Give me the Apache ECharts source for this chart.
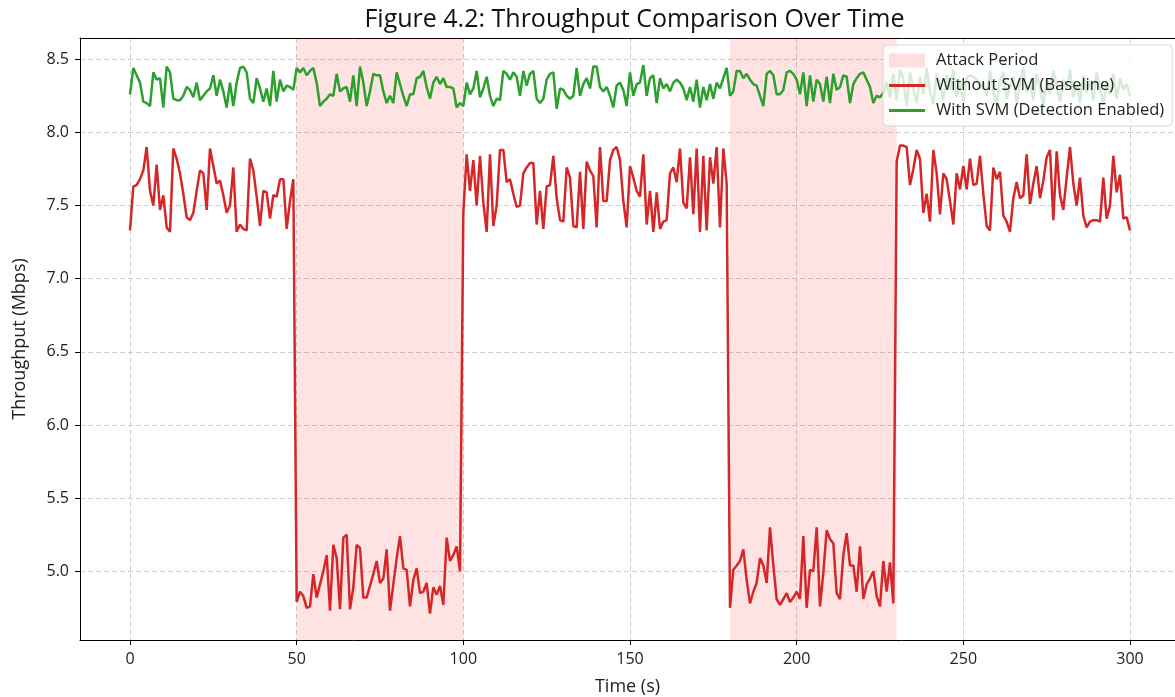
<!DOCTYPE html>
<html>
<head>
<meta charset="utf-8">
<script src="https://cdn.jsdelivr.net/npm/echarts@6/dist/echarts.min.js"></script>
<style>
html,body{margin:0;padding:0;background:#fff;}
#chart{width:1175px;height:697px;}
</style>
</head>
<body>
<div id="chart"></div>
<script>
// ---- data (one value per second, t = 0..300) ----
const withoutSVM = [
  7.33,7.63,7.64,7.68,7.74,7.90,7.60,7.50,7.78,7.47,
  7.57,7.35,7.32,7.89,7.82,7.72,7.58,7.42,7.40,7.45,
  7.60,7.74,7.72,7.47,7.89,7.77,7.65,7.67,7.57,7.45,
  7.50,7.76,7.32,7.37,7.34,7.33,7.82,7.74,7.56,7.36,
  7.60,7.59,7.41,7.57,7.56,7.68,7.68,7.34,7.53,7.68,
  4.79,4.86,4.83,4.75,4.76,4.98,4.82,4.91,5.00,5.11,
  4.73,5.18,5.09,4.74,5.23,5.25,4.74,4.89,5.18,5.16,
  4.82,4.82,4.90,4.98,5.07,4.92,4.95,5.15,4.73,4.91,
  5.09,5.24,5.02,5.01,4.76,4.94,5.02,4.85,4.86,4.92,
  4.71,4.89,4.84,4.90,4.77,5.23,5.07,5.11,5.17,5.00,
  7.45,7.85,7.60,7.81,7.50,7.84,7.52,7.32,7.85,7.36,
  7.50,7.88,7.88,7.66,7.68,7.58,7.49,7.50,7.72,7.76,
  7.79,7.79,7.37,7.60,7.34,7.63,7.64,7.84,7.55,7.40,
  7.39,7.76,7.69,7.36,7.35,7.73,7.34,7.80,7.74,7.70,
  7.35,7.90,7.53,7.53,7.81,7.88,7.90,7.81,7.53,7.35,
  7.77,7.69,7.60,7.56,7.85,7.37,7.60,7.32,7.59,7.34,
  7.39,7.40,7.72,7.76,7.66,7.89,7.52,7.48,7.83,7.44,
  7.89,7.32,7.84,7.33,7.83,7.65,7.90,7.35,7.89,7.65,
  4.75,5.01,5.04,5.07,5.15,4.94,4.78,4.86,4.92,5.09,
  5.04,4.92,5.30,5.04,4.81,4.77,4.81,4.85,4.79,4.82,
  4.86,4.81,5.24,4.75,5.01,5.00,5.30,4.76,4.99,5.28,
  5.22,5.19,4.85,4.81,5.11,5.26,5.04,5.04,4.86,5.17,
  4.81,4.91,4.95,5.00,4.83,4.76,5.07,4.86,5.06,4.78,
  7.80,7.91,7.91,7.90,7.64,7.75,7.88,7.82,7.45,7.58,
  7.39,7.88,7.72,7.44,7.72,7.68,7.53,7.37,7.72,7.61,
  7.77,7.61,7.82,7.64,7.65,7.84,7.58,7.36,7.33,7.76,
  7.68,7.73,7.43,7.39,7.32,7.55,7.66,7.55,7.57,7.85,
  7.51,7.65,7.77,7.55,7.67,7.83,7.88,7.40,7.87,7.57,
  7.47,7.69,7.90,7.65,7.50,7.69,7.43,7.35,7.39,7.40,
  7.40,7.39,7.69,7.41,7.50,7.84,7.59,7.71,7.41,7.42,
  7.33
];
const withSVM = [
  8.26,8.44,8.39,8.34,8.21,8.20,8.18,8.41,8.36,8.37,
  8.17,8.45,8.41,8.23,8.22,8.22,8.25,8.31,8.29,8.24,
  8.34,8.22,8.25,8.28,8.30,8.39,8.25,8.36,8.28,8.17,
  8.34,8.18,8.34,8.44,8.45,8.41,8.23,8.20,8.37,8.30,
  8.21,8.30,8.18,8.42,8.21,8.36,8.28,8.32,8.31,8.29,
  8.44,8.41,8.44,8.39,8.42,8.44,8.34,8.18,8.21,8.23,
  8.26,8.25,8.40,8.28,8.30,8.31,8.21,8.39,8.18,8.45,
  8.34,8.18,8.28,8.40,8.39,8.39,8.28,8.20,8.25,8.20,
  8.41,8.33,8.25,8.18,8.26,8.26,8.37,8.38,8.42,8.31,
  8.23,8.34,8.38,8.33,8.37,8.31,8.31,8.30,8.17,8.20,
  8.18,8.34,8.26,8.30,8.42,8.24,8.30,8.38,8.25,8.18,
  8.23,8.22,8.42,8.40,8.36,8.41,8.38,8.25,8.42,8.32,
  8.40,8.42,8.23,8.20,8.23,8.36,8.40,8.41,8.16,8.30,
  8.29,8.25,8.23,8.25,8.44,8.25,8.33,8.37,8.30,8.45,
  8.45,8.31,8.28,8.31,8.25,8.17,8.32,8.34,8.29,8.18,
  8.41,8.25,8.33,8.34,8.46,8.25,8.37,8.39,8.20,8.37,
  8.30,8.33,8.28,8.34,8.36,8.34,8.30,8.22,8.31,8.21,
  8.36,8.17,8.31,8.22,8.33,8.23,8.34,8.30,8.37,8.44,
  8.25,8.28,8.42,8.42,8.37,8.40,8.36,8.33,8.32,8.25,
  8.18,8.40,8.42,8.39,8.26,8.26,8.29,8.41,8.42,8.40,
  8.36,8.26,8.41,8.18,8.39,8.21,8.36,8.33,8.21,8.38,
  8.20,8.40,8.29,8.31,8.39,8.38,8.20,8.33,8.37,8.40,
  8.41,8.36,8.31,8.20,8.25,8.24,8.27,8.34,8.24,8.40,
  8.22,8.43,8.36,8.18,8.41,8.30,8.20,8.38,8.26,8.44,
  8.28,8.19,8.40,8.33,8.22,8.39,8.29,8.43,8.24,8.35,
  8.21,8.37,8.39,8.38,8.36,8.30,8.34,8.25,8.42,8.28,
  8.19,8.36,8.41,8.23,8.31,8.38,8.20,8.33,8.44,8.27,
  8.35,8.22,8.40,8.30,8.18,8.37,8.26,8.42,8.32,8.21,
  8.36,8.29,8.43,8.24,8.33,8.20,8.39,8.27,8.35,8.22,
  8.41,8.30,8.19,8.34,8.26,8.40,8.23,8.37,8.29,8.33,
  8.25
];
const attackPeriods = [[50, 100], [180, 230]];
const xTicks = [0, 50, 100, 150, 200, 250, 300];
const yTicks = [5.0, 5.5, 6.0, 6.5, 7.0, 7.5, 8.0, 8.5];
const seriesNames = ['Attack Period', 'Without SVM (Baseline)', 'With SVM (Detection Enabled)'];
const titleText = 'Figure 4.2: Throughput Comparison Over Time';
const xName = 'Time (s)';
const yName = 'Throughput (Mbps)';

// ---- chart ----
const FONT = 'Open Sans';
const LINE_ICON = 'path://M0,0H36V3H0Z';
const toPairs = arr => arr.map((v, i) => [i, v]);
const chart = echarts.init(document.getElementById('chart'), null, {renderer: 'canvas'});
chart.setOption({
  animation: false,
  backgroundColor: '#fff',
  title: {
    text: titleText, left: 629.5, textAlign: 'center', top: 2,
    textStyle: {fontFamily: FONT, fontSize: 25, fontWeight: 'normal', color: '#111'}
  },
  // the original plot frame runs a few pixels past the right edge of the picture
  grid: {left: 80, top: 38, right: 0, bottom: 57, show: false, outerBoundsMode: 'none', containLabel: false},
  legend: {
    left: 883, top: 45, orient: 'vertical',
    backgroundColor: 'rgba(255,255,255,0.8)', borderColor: '#d6d6d6', borderWidth: 1, borderRadius: 4,
    padding: [7, 8, 7, 6], itemWidth: 36, itemHeight: 14, itemGap: 8,
    textStyle: {fontFamily: FONT, fontSize: 16.5, lineHeight: 16, color: '#222', padding: [0, 0, 0, 6]},
    data: [
      {name: seriesNames[0], icon: 'rect', itemStyle: {color: 'rgba(255,0,0,0.12)'}},
      {name: seriesNames[1], icon: LINE_ICON},
      {name: seriesNames[2], icon: LINE_ICON}
    ]
  },
  xAxis: [{
    type: 'value', min: -15, max: 313.5,
    name: xName, nameLocation: 'middle', nameGap: 38,
    nameTextStyle: {fontFamily: FONT, fontSize: 18, color: '#222'},
    axisLine: {show: true, onZero: false, lineStyle: {color: '#000', width: 1}},
    axisTick: {show: true, length: 5, lineStyle: {color: '#000'}, customValues: xTicks},
    axisLabel: {fontFamily: FONT, fontSize: 16, color: '#222', margin: 11, customValues: xTicks},
    splitLine: {show: true, lineStyle: {color: '#cfcfcf', type: [5, 3], width: 1}}
  }, {
    type: 'value', min: -15, max: 313.5, position: 'top',
    axisLine: {show: true, onZero: false, lineStyle: {color: '#000', width: 1}},
    axisTick: {show: false}, axisLabel: {show: false}, splitLine: {show: false}
  }],
  yAxis: {
    type: 'value', min: 4.53, max: 8.645,
    name: yName, nameLocation: 'middle', nameGap: 51, nameRotate: 90,
    nameTextStyle: {fontFamily: FONT, fontSize: 18, color: '#222'},
    axisLine: {show: true, onZero: false, lineStyle: {color: '#000', width: 1}},
    axisTick: {show: true, length: 5, lineStyle: {color: '#000'}, customValues: yTicks},
    axisLabel: {fontFamily: FONT, fontSize: 16, color: '#222', margin: 11, customValues: yTicks,
      formatter: v => Number(v).toFixed(1)},
    splitLine: {show: true, lineStyle: {color: '#cfcfcf', type: [5, 3], width: 1}}
  },
  series: [
    {
      name: seriesNames[0], type: 'line', data: [], symbol: 'none', z: 1,
      itemStyle: {color: 'rgba(255,0,0,0.12)'},
      markArea: {
        silent: true,
        itemStyle: {color: 'rgba(255,0,0,0.11)'},
        data: attackPeriods.map(p => [{xAxis: p[0]}, {xAxis: p[1]}])
      }
    },
    {
      name: seriesNames[1], type: 'line', data: toPairs(withoutSVM), symbol: 'none', z: 3,
      itemStyle: {color: '#d62728'},
      lineStyle: {color: '#d62728', width: 2.5}
    },
    {
      name: seriesNames[2], type: 'line', data: toPairs(withSVM), symbol: 'none', z: 3,
      itemStyle: {color: '#2ca02c'},
      lineStyle: {color: '#2ca02c', width: 2.5}
    }
  ]
});
</script>
</body>
</html>
